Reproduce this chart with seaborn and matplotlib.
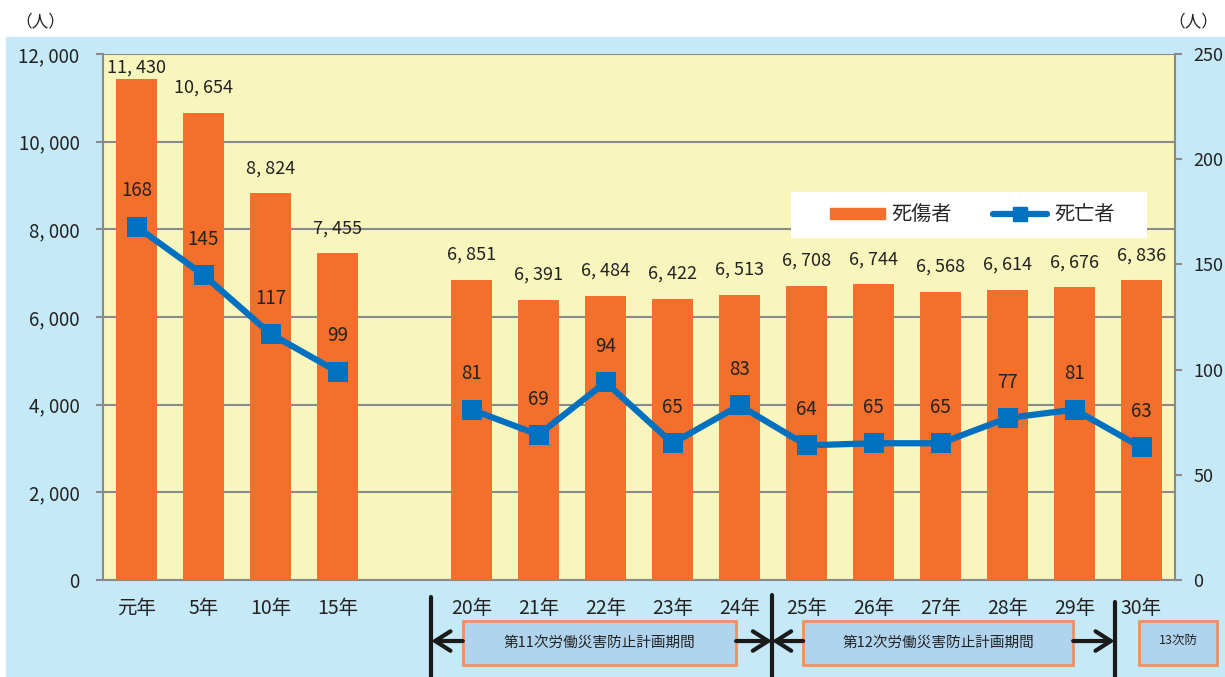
import matplotlib
matplotlib.use('Agg')
import matplotlib.pyplot as plt
import matplotlib.patches as mpatches
from matplotlib.lines import Line2D
import numpy as np
import pandas as pd
import seaborn as sns

# data
years = ['元年', '5年', '10年', '15年', '', '20年', '21年', '22年', '23年', '24年',
         '25年', '26年', '27年', '28年', '29年', '30年']
casualties = [11430, 10654, 8824, 7455, None, 6851, 6391, 6484, 6422, 6513,
              6708, 6744, 6568, 6614, 6676, 6836]
deaths = [168, 145, 117, 99, None, 81, 69, 94, 65, 83,
          64, 65, 65, 77, 81, 63]
# line segments (the line is broken at the empty slot)
segment = [0, 0, 0, 0, None, 1, 1, 1, 1, 1, 1, 1, 1, 1, 1, 1]

periods = [('第11次労働災害防止計画期間', 4.87, 8.95),
           ('第12次労働災害防止計画期間', 9.95, 13.98)]

BAR = '#F26F2C'
LINE = '#0070C0'
YELLOW = '#F8F6BC'
SKY = '#C6E9F8'
GRID = '#8A8A8A'
INK = '#222222'

sns.set_style('white')
plt.rcParams['font.family'] = ['Noto Sans CJK JP', 'DejaVu Sans']

df = pd.DataFrame({'year': years, 'casualties': casualties,
                   'deaths': deaths, 'seg': segment})
df['pos'] = np.arange(len(df))

fig = plt.figure(figsize=(12.25, 6.77), dpi=100)
fig.patch.set_facecolor('white')
fig.add_artist(mpatches.Rectangle((6 / 1225, 0), 1, (677 - 37) / 677,
                                  transform=fig.transFigure, color=SKY, zorder=0))

ax = fig.add_axes([103 / 1225, 97 / 677, 1072 / 1225, 526 / 677])
ax.set_facecolor(YELLOW)

bars = df.dropna(subset=['casualties'])
sns.barplot(data=bars, x='year', y='casualties', order=years, color=BAR,
            saturation=1, width=0.6, linewidth=0, ax=ax, zorder=3)

ax.set_ylim(0, 12000)
ax.set_xlim(-0.5, len(years) - 0.5)
ax.set_yticks(np.arange(0, 12001, 2000))
ax.set_yticklabels([f'{v:,}'.replace(',', ', ') for v in range(0, 12001, 2000)])
ax.yaxis.grid(True, color=GRID, lw=1.5, zorder=1)
ax.set_axisbelow(True)
ax.set_xlabel('')
ax.set_ylabel('')
ax.set_xticks(range(len(years)))
ax.set_xticklabels(years)
ax.set_xticks(np.arange(-0.5, len(years)), minor=True)
ax.tick_params(axis='x', which='major', length=0, pad=13, labelsize=14, colors=INK)
ax.tick_params(axis='x', which='minor', length=5, width=1.5, color=GRID)
ax.tick_params(axis='y', length=5, width=1.5, color=GRID, pad=12, labelsize=13.5,
               labelcolor=INK)
for s in ['left', 'bottom', 'right']:
    ax.spines[s].set_color(GRID)
    ax.spines[s].set_linewidth(1.5)
ax.spines['top'].set_visible(False)

for _, r in bars.iterrows():
    ax.text(r['pos'], min(r['casualties'] + 570, 11700),
            f"{int(r['casualties']):,}".replace(',', ', '),
            ha='center', va='center', fontsize=13, color=INK, zorder=5)

ax2 = ax.twinx()
ln = df.dropna(subset=['deaths'])
sns.lineplot(data=ln, x='pos', y='deaths', units='seg', estimator=None,
             color=LINE, lw=4.5, marker='s', markersize=14, markeredgewidth=0,
             ax=ax2, zorder=4, legend=False)
ax2.set_ylim(0, 250)
ax2.set_xlim(-0.5, len(years) - 0.5)
ax2.set_yticks(range(0, 251, 50))
ax2.set_xlabel('')
ax2.set_ylabel('')
ax2.tick_params(axis='y', length=5, width=1.5, color=GRID, pad=8, labelsize=13,
                labelcolor=INK)
for s in ax2.spines.values():
    s.set_visible(False)

for _, r in ln.iterrows():
    ax2.text(r['pos'], r['deaths'] + 17, f"{int(r['deaths'])}",
             ha='center', va='center', fontsize=13.5, color=INK, zorder=5)

# legend: white box behind a frameless legend
ax2.add_patch(mpatches.Rectangle((0.6418, 0.6502), 0.3321, 0.0874,
                                 transform=ax2.transAxes, facecolor='white',
                                 edgecolor='none', zorder=4.9))
handles = [mpatches.Patch(color=BAR, label='死傷者'),
           Line2D([0], [0], color=LINE, lw=4.5, marker='s', markersize=10,
                  label='死亡者')]
ax2.legend(handles=handles, loc='center', bbox_to_anchor=(0.811, 0.694),
           ncol=2, frameon=False, fontsize=14.5,
           handlelength=2.7, handleheight=0.5, handletextpad=0.35,
           columnspacing=2.0, borderpad=0.2, borderaxespad=0)

# period annotations under the x axis
tr = ax.get_xaxis_transform()
for x, y0 in [(4.4, -0.032), (9.485, -0.028), (14.6, -0.042)]:
    ax.plot([x, x], [y0, -0.19], transform=tr, color='#1a1a1a', lw=3,
            clip_on=False, zorder=6)

ay = -0.116
box_y0, box_h = -0.162, 0.084
for text, x0, x1 in periods:
    ax.add_patch(mpatches.Rectangle((x0, box_y0), x1 - x0, box_h, transform=tr,
                                    facecolor='#B0D4EE', edgecolor='#F29060', lw=2,
                                    clip_on=False, zorder=6))
    ax.text((x0 + x1) / 2, box_y0 + box_h / 2, text, transform=tr, ha='center',
            va='center', fontsize=10.5, color=INK, zorder=7)
ax.add_patch(mpatches.Rectangle((14.96, box_y0), 1.17, box_h, transform=tr,
                                facecolor='#B0D4EE', edgecolor='#F29060', lw=2,
                                clip_on=False, zorder=6))
ax.text(15.545, box_y0 + box_h / 2 + 0.005, '13次防', transform=tr, ha='center',
        va='center', fontsize=9, color=INK, zorder=7)

arrow = dict(arrowstyle='->,head_length=1.1,head_width=0.7', lw=3, color='#1a1a1a',
             shrinkA=0, shrinkB=0)
for start, end in [(4.87, 4.4), (8.95, 9.485), (9.95, 9.485), (13.98, 14.6)]:
    ax.annotate('', xy=(end, ay), xycoords=tr, xytext=(start, ay), textcoords=tr,
                arrowprops=arrow, annotation_clip=False, zorder=6)

fig.text(40 / 1225, 1 - 22 / 677, '（人）', ha='center', va='center', fontsize=12,
         color=INK)
fig.text(1193 / 1225, 1 - 22 / 677, '（人）', ha='center', va='center', fontsize=12,
         color=INK)

fig.savefig('out.png', dpi=100)
